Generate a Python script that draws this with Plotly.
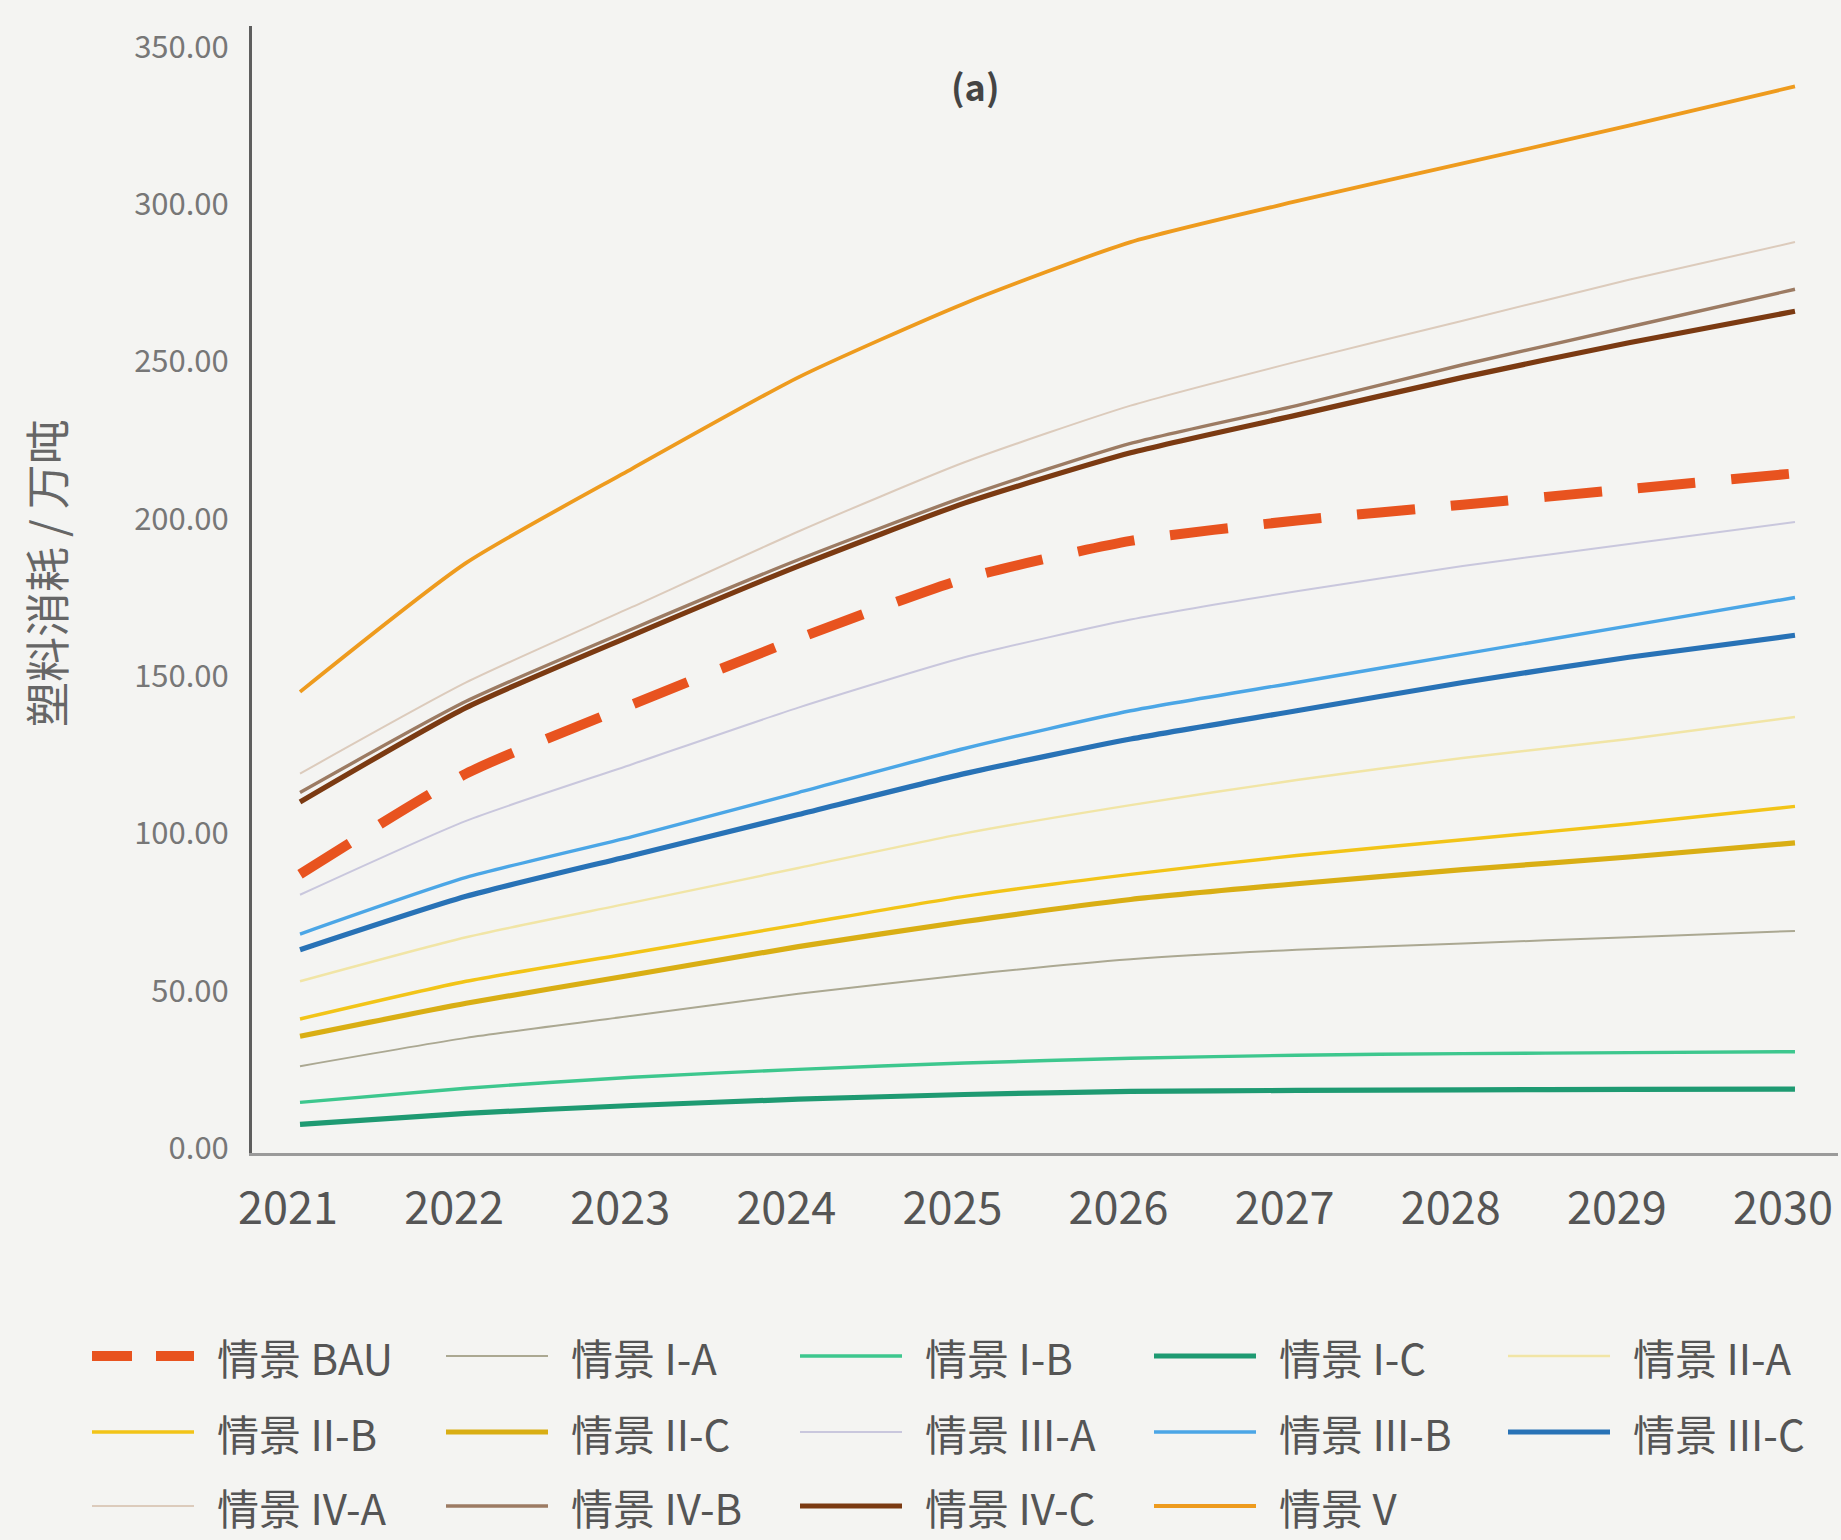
import plotly.graph_objects as go

# ---- data: plastic consumption per scenario (10k tonnes) ----
years = [2021, 2022, 2023, 2024, 2025, 2026, 2027, 2028, 2029, 2030]

bau   = [87.0, 119.0, 141.0, 162.0, 181.0, 193.0, 199.5, 204.5, 209.5, 214.5]
i_a   = [26.0, 35.0, 42.0, 49.0, 55.0, 60.0, 63.0, 65.0, 67.0, 69.0]
i_b   = [14.5, 19.0, 22.5, 25.0, 27.0, 28.5, 29.5, 30.0, 30.3, 30.6]
i_c   = [7.5, 11.0, 13.5, 15.5, 17.0, 18.0, 18.3, 18.5, 18.6, 18.7]
ii_a  = [53.0, 67.0, 78.0, 89.0, 100.0, 109.0, 117.0, 124.0, 130.0, 137.0]
ii_b  = [41.0, 53.0, 62.0, 71.0, 80.0, 87.0, 93.0, 98.0, 103.0, 108.6]
ii_c  = [35.5, 46.0, 55.0, 64.0, 72.0, 79.0, 84.0, 88.5, 92.5, 97.0]
iii_a = [80.5, 104.0, 122.0, 140.0, 156.0, 168.0, 177.0, 185.0, 192.0, 199.0]
iii_b = [68.0, 86.0, 99.0, 113.0, 127.0, 139.0, 148.0, 157.0, 166.0, 175.0]
iii_c = [63.0, 80.0, 93.0, 106.0, 119.0, 130.0, 139.0, 148.0, 156.0, 163.0]
iv_a  = [119.0, 148.0, 172.0, 196.0, 218.0, 236.0, 250.0, 263.0, 276.0, 288.0]
iv_b  = [113.0, 142.0, 165.0, 187.0, 207.0, 224.0, 236.0, 249.0, 261.0, 273.0]
iv_c  = [110.0, 140.0, 163.0, 185.0, 205.0, 221.0, 233.0, 245.0, 256.0, 266.0]
v     = [145.0, 186.0, 216.0, 245.0, 268.5, 288.0, 301.0, 313.0, 325.0, 337.5]

y_ticks = [0, 50, 100, 150, 200, 250, 300, 350]

# ---- styling ----
FONT = "Noto Sans CJK SC"
BG = "#F4F4F2"
THIN, MID, THICK = 2.0, 3.4, 5.2
BAU_DASH = "58px,36px"

series = [
    ("情景 BAU",   bau,   "#E8531F", 10.0, BAU_DASH),
    ("情景 I-A",   i_a,   "#ABA892", THIN, "solid"),
    ("情景 I-B",   i_b,   "#3DC78E", MID, "solid"),
    ("情景 I-C",   i_c,   "#1E9A72", THICK, "solid"),
    ("情景 II-A",  ii_a,  "#F1E5A6", THIN + 0.4, "solid"),
    ("情景 II-B",  ii_b,  "#F2C418", MID, "solid"),
    ("情景 II-C",  ii_c,  "#D9AE14", THICK, "solid"),
    ("情景 III-A", iii_a, "#C9C7DD", THIN, "solid"),
    ("情景 III-B", iii_b, "#4BA6E6", MID, "solid"),
    ("情景 III-C", iii_c, "#2872B6", THICK, "solid"),
    ("情景 IV-A",  iv_a,  "#DCCBBC", THIN, "solid"),
    ("情景 IV-B",  iv_b,  "#9C7B63", MID, "solid"),
    ("情景 IV-C",  iv_c,  "#7B3A12", THICK, "solid"),
    ("情景 V",     v,     "#EE9B1E", MID + 0.4, "solid"),
]

fig = go.Figure()
for name, vals, color, width, dash in series:
    fig.add_trace(go.Scatter(
        x=years, y=vals, name=name, mode="lines",
        line=dict(color=color, width=width, dash=dash, shape="spline", smoothing=0.6),
        showlegend=False,
    ))

# ---- page geometry (pixels) ----
W, H = 1841, 1540
L, R, T, B = 252, 3, 26, 387
plot_w = W - L - R
plot_h = H - T - B


def xp(px):
    return (px - L) / plot_w


def yp(py):
    return (H - B - py) / plot_h


# ---- legend grid: 5 columns, 3 rows ----
col0, col_step = 92, 354
row_y = [1356, 1432, 1506]
key_len, text_gap = 102, 123
shapes, annots = [], []
for idx, (name, _, color, width, dash) in enumerate(series):
    r, c = divmod(idx, 5)
    x0 = col0 + c * col_step
    y = row_y[r]
    key_dash = "40px,24px" if dash != "solid" else "solid"
    shapes.append(dict(
        type="line", xref="paper", yref="paper",
        x0=xp(x0), x1=xp(x0 + key_len), y0=yp(y), y1=yp(y),
        line=dict(color=color, width=width, dash=key_dash),
    ))
    annots.append(dict(
        text=name, xref="paper", yref="paper",
        x=xp(x0 + text_gap), y=yp(y), xanchor="left", yanchor="middle",
        showarrow=False, font=dict(family=FONT, size=42, color="#555555"),
    ))

# panel label and y-axis title
annots.append(dict(
    text="<b>(a)</b>", xref="paper", yref="paper", x=xp(975), y=yp(85),
    xanchor="center", yanchor="middle", showarrow=False,
    font=dict(family=FONT, size=36, color="#444444"),
))
annots.append(dict(
    text="塑料消耗 / 万吨", xref="paper", yref="paper", x=xp(45), y=yp(573),
    xanchor="center", yanchor="middle", textangle=-90, showarrow=False,
    font=dict(family=FONT, size=45, color="#666666"),
))

fig.update_layout(
    width=W, height=H,
    margin=dict(l=L, r=R, t=T, b=B),
    paper_bgcolor=BG, plot_bgcolor=BG,
    font=dict(family=FONT),
    shapes=shapes, annotations=annots,
    showlegend=False,
)
fig.update_xaxes(
    range=[2020.711, 2030.259], tickvals=years, ticktext=[str(y) for y in years],
    showline=True, linecolor="#9A9A9A", linewidth=3, showgrid=False, zeroline=False,
    ticks="", ticklabelstandoff=14, ticklabelshift=-12, ticklabeloverflow="allow",
    tickfont=dict(family=FONT, size=45, color="#555555"),
)
fig.update_yaxes(
    range=[-1.6, 356.7], tickvals=y_ticks, tickformat=".2f",
    showline=True, linecolor="#5E5E5E", linewidth=3, showgrid=False, zeroline=False,
    ticks="", ticklabelstandoff=14,
    tickfont=dict(family=FONT, size=31, color="#777777"),
)

fig.write_html("out.html")
